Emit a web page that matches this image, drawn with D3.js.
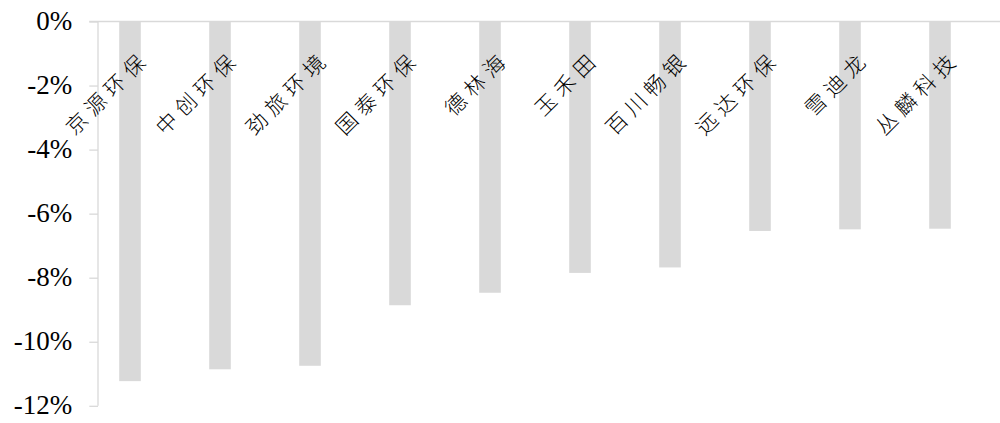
<!DOCTYPE html>
<html><head><meta charset="utf-8">
<script src="https://cdn.jsdelivr.net/npm/d3@7"></script>
<style>body{margin:0;background:#fff}</style>
</head><body>
<svg id="c" width="1000" height="423"></svg>
<script>
const categories = ["京源环保","中创环保","劲旅环境","国泰环保","德林海","玉禾田","百川畅银","远达环保","雪迪龙","丛麟科技"];
const values = [-11.23,-10.86,-10.75,-8.86,-8.47,-7.85,-7.68,-6.54,-6.49,-6.47];
const yTicks = [0,-2,-4,-6,-8,-10,-12];

const svg = d3.select("#c");
const axisX = 98;
const y = d3.scaleLinear().domain([-12,0]).range([405.8,21.5]);
const x = d3.scaleBand().domain(categories).range([85,985]).paddingInner(0.76).paddingOuter(0.38);
const grey = "#d9d9d9";

// bars
svg.selectAll("rect.bar").data(categories).join("rect")
  .attr("class","bar")
  .attr("x", d=>x(d))
  .attr("width", x.bandwidth())
  .attr("y", y(0))
  .attr("height", (d,i)=>y(values[i])-y(0))
  .attr("fill", grey);

// zero line
svg.append("line").attr("x1",89.3).attr("x2",1000).attr("y1",y(0)).attr("y2",y(0))
  .attr("stroke",grey).attr("stroke-width",1.3);

// y axis
const yAxis = d3.axisLeft(y).tickValues(yTicks).tickSize(8.7).tickPadding(17)
  .tickFormat(d=>d+"%");
const g = svg.append("g").attr("transform",`translate(${axisX},0)`).call(yAxis);
g.select(".domain").attr("stroke",grey).attr("stroke-width",1.3).attr("d",`M0,${y(0)}V${y(-12)}`);
g.selectAll(".tick line").attr("stroke",grey).attr("stroke-width",1.3);
g.selectAll(".tick text").attr("font-family","'Liberation Serif','Times New Roman',serif")
  .attr("font-size",27).attr("fill","#000").attr("dy","0.3em");

// category labels
svg.selectAll("text.cat").data(categories).join("text")
  .attr("class","cat")
  .attr("transform", d=>`translate(${x(d)+x.bandwidth()/2+21},60) rotate(-45)`)
  .attr("text-anchor","end")
  .attr("font-family","'Noto Sans CJK SC',sans-serif")
  .attr("font-weight",300)
  .attr("font-size",21)
  .attr("letter-spacing","6px")
  .attr("fill","#000")
  .text(d=>d);
</script>
</body></html>
